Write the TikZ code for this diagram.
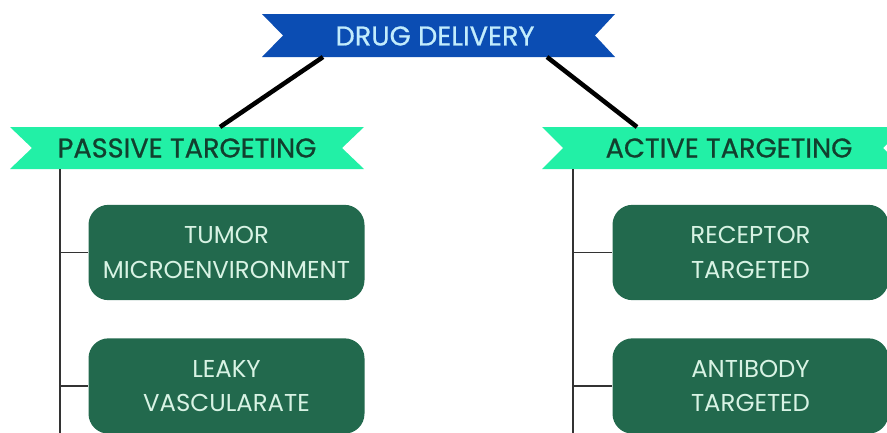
\documentclass[tikz,border=0pt]{standalone}
\usepackage{fontspec}
\setmainfont{Poppins}
\newfontfamily\bannerfont[FakeBold=0.7]{Poppins}
\definecolor{ribbonblue}{HTML}{0B4DB3}
\definecolor{ribbontext}{HTML}{C2ECFC}
\definecolor{mint}{HTML}{22F0A6}
\definecolor{minttext}{HTML}{123F2E}
\definecolor{boxgreen}{HTML}{22694D}
\definecolor{boxtext}{HTML}{D8F3E4}
\definecolor{stem}{HTML}{333333}
\tikzset{
  leafbox/.style={draw=none, fill=boxgreen, rounded corners=15pt, minimum width=207pt, minimum height=71.5pt,
    text=boxtext, align=center, font=\fontsize{18.3}{26}\selectfont, inner sep=0pt},
  toplabel/.style={text=ribbontext, font=\bannerfont\fontsize{20.4}{22}\selectfont, inner sep=0pt},
  sublabel/.style={text=minttext, font=\bannerfont\fontsize{20.4}{22}\selectfont, inner sep=0pt},
  thick connector/.style={line width=3.4pt, black},
  stemline/.style={line width=1.4pt, stem},
}
\begin{document}
\begin{tikzpicture}[x=0.75pt,y=-0.75pt]
\useasboundingbox (0,0) rectangle (887,432);
\clip (0,0) rectangle (887,432);
% ribbons
\fill[ribbonblue] (262,14) -- (615,14) -- (595,35.5) -- (615,57) -- (262,57) -- (283,35.5) -- cycle;
\fill[mint] (10,127) -- (364,127) -- (342,148) -- (364,169) -- (10,169) -- (32,148) -- cycle;
\fill[mint] (542,127) -- (905,127) -- (883,148) -- (905,169) -- (542,169) -- (563,148) -- cycle;
% labels
\node[toplabel] (dd) at (435,36) {DRUG DELIVERY};
\node[sublabel] (pt) at (187,148) {PASSIVE TARGETING};
\node[sublabel] (at) at (729,148) {ACTIVE TARGETING};
% boxes
\node[leafbox] (tm) at (226.5,252.5) {TUMOR\\MICROENVIRONMENT};
\node[leafbox] (lv) at (226.5,386) {LEAKY\\VASCULARATE};
\node[leafbox] (rt) at (750.5,252.5) {RECEPTOR\\TARGETED};
\node[leafbox] (ab) at (750.5,386) {ANTIBODY\\TARGETED};
% connector anchors
\coordinate (ddl) at (323,57);
\coordinate (ddr) at (547,57);
\coordinate (ptt) at (220,127);
\coordinate (att) at (637,127);
\coordinate (ptb) at (60,169);
\coordinate (atb) at (573,169);
\coordinate (ptend) at (60,440);
\coordinate (atend) at (573,440);
% connectors
\draw[thick connector] (ddl) -- (ptt);
\draw[thick connector] (ddr) -- (att);
\draw[stemline] (ptb) -- (ptend);
\draw[stemline] (atb) -- (atend);
\draw[stemline] (ptb |- tm.west) -- (tm.west);
\draw[stemline] (ptb |- lv.west) -- (lv.west);
\draw[stemline] (atb |- rt.west) -- (rt.west);
\draw[stemline] (atb |- ab.west) -- (ab.west);
\end{tikzpicture}
\end{document}
